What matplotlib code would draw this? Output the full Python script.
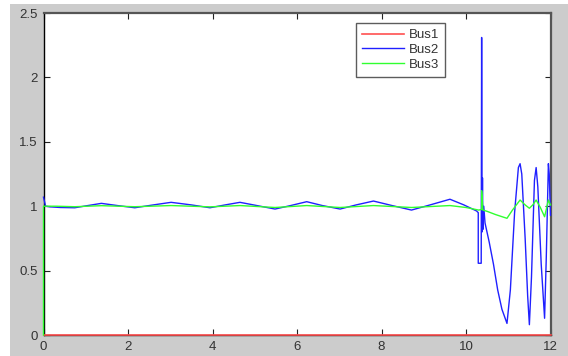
import matplotlib
matplotlib.use("Agg")
import matplotlib.pyplot as plt
from matplotlib.patches import Rectangle

plt.rcParams['font.family'] = ['Liberation Sans', 'DejaVu Sans']

# ---- data ----
bus1_t = [0, 12]
bus1_v = [0, 0]

bus2_t = [0.0, 0.05, 0.15, 0.4, 0.74, 1.05, 1.37, 1.75, 2.16, 2.6, 3.02, 3.5,
          3.94, 4.3, 4.65, 5.05, 5.48, 5.85, 6.23, 6.6, 7.02, 7.4, 7.81, 8.25,
          8.71, 9.15, 9.62, 9.95, 10.25, 10.29, 10.29, 10.36, 10.37, 10.38,
          10.39, 10.40, 10.42, 10.45, 10.55, 10.65, 10.75, 10.85, 10.97, 11.05,
          11.15, 11.24, 11.28, 11.32, 11.40, 11.46, 11.50, 11.55, 11.62, 11.66,
          11.70, 11.78, 11.86, 11.90, 11.95, 11.97, 12.0]
bus2_v = [1.07, 1.0, 0.995, 0.99, 0.988, 1.005, 1.022, 1.005, 0.988, 1.01, 1.03, 1.01,
          0.988, 1.01, 1.03, 1.005, 0.978, 1.005, 1.035, 1.005, 0.978, 1.01, 1.04, 1.005,
          0.97, 1.01, 1.054, 1.01, 0.963, 0.95, 0.557, 0.557, 2.31, 0.80,
          1.22, 0.82, 1.0, 0.87, 0.72, 0.55, 0.35, 0.2, 0.09, 0.35,
          0.95, 1.3, 1.33, 1.25, 0.75, 0.3, 0.08, 0.45, 1.2, 1.30,
          1.15, 0.55, 0.13, 0.6, 1.33, 1.25, 0.93]

bus3_t = [0.0, 0.0, 0.3, 0.74, 1.37, 2.16, 3.02, 3.94, 4.65, 5.48, 6.23, 7.02,
          7.81, 8.71, 9.62, 10.0, 10.3, 10.37, 10.37, 10.4, 10.5, 10.7, 10.97,
          11.1, 11.28, 11.4, 11.5, 11.58, 11.66, 11.76, 11.86, 11.95, 12.0]
bus3_v = [0.0, 1.0, 1.0, 0.996, 1.004, 0.996, 1.005, 0.995, 1.005, 0.99, 1.005, 0.99,
          1.005, 0.99, 1.005, 0.99, 0.97, 0.975, 1.12, 0.97, 0.96, 0.935, 0.906,
          0.97, 1.048, 1.01, 0.984, 1.01, 1.048, 0.99, 0.918, 1.048, 1.01]

series_names = ['Bus1', 'Bus2', 'Bus3']
x_ticks = [0, 2, 4, 6, 8, 10, 12]
y_ticks = [0, 0.5, 1, 1.5, 2, 2.5]
y_ticklabels = ['0', '0.5', '1', '1.5', '2', '2.5']

# ---- figure ----
W, H = 568, 356
fig = plt.figure(figsize=(W / 100, H / 100), dpi=100, facecolor='white')
bg = Rectangle((10 / W, 0), 1 - 10 / W, (H - 4) / H,
               transform=fig.transFigure, facecolor='#cccccc',
               edgecolor='none', zorder=-10)
fig.add_artist(bg)

ax = fig.add_axes([43.5 / W, 21 / H, 507 / W, 322 / H])
ax.set_zorder(1)
ax.set_facecolor('white')

ax.plot(bus1_t, bus1_v, color='#ff5050', lw=1.2, label=series_names[0],
        zorder=3, clip_on=False)
ax.plot(bus2_t, bus2_v, color='#2020ff', lw=1.0, label=series_names[1],
        zorder=3, clip_on=False)
ax.plot(bus3_t, bus3_v, color='#30ff30', lw=1.0, label=series_names[2],
        zorder=3, clip_on=False)

ax.set_xlim(0, 12)
ax.set_ylim(0, 2.5)
ax.set_xticks(x_ticks)
ax.set_xticklabels([str(v) for v in x_ticks])
ax.set_yticks(y_ticks)
ax.set_yticklabels(y_ticklabels)
ax.tick_params(direction='in', length=4, width=0.8, top=True, right=True,
               labelsize=9.5, labelcolor='#333333', color='#222222', pad=4)

for s in ['left', 'bottom']:
    ax.spines[s].set_color('black')
    ax.spines[s].set_linewidth(1.0)
for s in ['top', 'right']:
    ax.spines[s].set_color('#555555')
    ax.spines[s].set_linewidth(1.6)

leg = ax.legend(loc='upper left', bbox_to_anchor=(0.617, 0.969), fontsize=9.5,
                frameon=True, fancybox=False, shadow=False, handlelength=3.2,
                borderpad=0.45, labelspacing=0.2, handletextpad=0.35,
                borderaxespad=0)
leg.get_frame().set_edgecolor('#333333')
leg.get_frame().set_linewidth(1.0)
leg.set_zorder(5)
for t in leg.get_texts():
    t.set_color('#333333')

fig.savefig('out.png', dpi=100, facecolor=fig.get_facecolor())
